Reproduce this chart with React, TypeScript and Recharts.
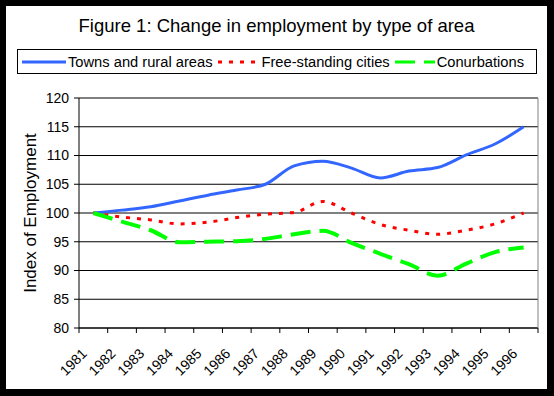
import React from "react";
import { LineChart, Line, XAxis, YAxis, CartesianGrid, ReferenceLine } from "recharts";

const years = ["1981", "1982", "1983", "1984", "1985", "1986", "1987", "1988", "1989", "1990", "1991", "1992", "1993", "1994", "1995", "1996"];
const towns = [100, 100.5, 101.1, 102.1, 103.1, 104, 105, 108.2, 109, 107.8, 106.1, 107.3, 107.9, 110.1, 112, 115];
const freeStanding = [100, 99.3, 98.8, 98.1, 98.4, 99.2, 99.8, 100.1, 102, 100, 98, 97, 96.3, 97, 98.1, 100];
const conurbations = [100, 98.5, 97, 94.9, 95, 95.1, 95.5, 96.3, 96.9, 94.8, 92.9, 91.1, 89.1, 91.2, 93.2, 94];
const yTicks = [80, 85, 90, 95, 100, 105, 110, 115, 120];

const data = years.map((year, i) => ({
  year,
  towns: towns[i],
  free: freeStanding[i],
  conurb: conurbations[i],
}));

const FONT = "'Liberation Sans', Arial, sans-serif";
const CHART_W = 541;
const CHART_H = 383;
const PLOT_W = 459;
const HALF_STEP = PLOT_W / years.length / 2;

const BLUE = "#3366ff";
const RED = "#ff0000";
const GREEN = "#00ff00";

function YearTick(props: any) {
  const { x, y, payload, index } = props;
  const last = index === years.length - 1;
  return (
    <g>
      <line x1={x - HALF_STEP} x2={x - HALF_STEP} y1={y} y2={y + 5} stroke="#000" />
      {last && <line x1={x + HALF_STEP} x2={x + HALF_STEP} y1={y} y2={y + 5} stroke="#000" />}
      <text
        transform={`translate(${x - 9},${y + 23}) rotate(-45)`}
        textAnchor="end"
        dominantBaseline="central"
        fontFamily={FONT}
        fontSize={14}
        fill="#000"
      >
        {payload.value}
      </text>
    </g>
  );
}

function LegendItem({ color, dash, width, label }: { color: string; dash?: string; width: number; label: string }) {
  return (
    <div style={{ display: "flex", alignItems: "center" }}>
      <svg width={width} height={10} style={{ display: "block" }}>
        <line x1={0} x2={width} y1={5} y2={5} stroke={color} strokeWidth={3} strokeDasharray={dash} />
      </svg>
      <span style={{ marginLeft: 2 }}>{label}</span>
    </div>
  );
}

export default function App() {
  return (
    <div style={{ position: "absolute", left: 0, top: 0, width: 554, height: 396, background: "#000" }}>
      <div style={{ position: "absolute", left: 6, top: 6, width: CHART_W, height: CHART_H, background: "#fff" }}>
        <div
          style={{
            position: "absolute",
            left: 0,
            top: 9,
            width: CHART_W,
            textAlign: "center",
            fontFamily: FONT,
            fontSize: 18.5,
            color: "#000",
          }}
        >
          Figure 1: Change in employment by type of area
        </div>
        <div
          style={{
            position: "absolute",
            left: 11,
            top: 43,
            width: 514,
            height: 23,
            border: "1px solid #000",
            display: "flex",
            alignItems: "center",
            gap: 5,
            paddingLeft: 4,
            boxSizing: "content-box",
            fontFamily: FONT,
            fontSize: 14.7,
            color: "#000",
            whiteSpace: "nowrap",
          }}
        >
          <LegendItem color={BLUE} width={44} label="Towns and rural areas" />
          <LegendItem color={RED} dash="4 7" width={42} label="Free-standing cities" />
          <LegendItem color={GREEN} dash="20 9" width={40} label="Conurbations" />
        </div>
        <LineChart
          width={CHART_W}
          height={CHART_H}
          data={data}
          margin={{ top: 92, right: 0, bottom: 0, left: 0 }}
        >
          <CartesianGrid vertical={false} stroke="#000" yAxisId="left" />
          <XAxis
            dataKey="year"
            interval={0}
            padding={{ left: HALF_STEP, right: HALF_STEP }}
            tickLine={false}
            tickSize={0}
            tickMargin={0}
            axisLine={{ stroke: "#000" }}
            height={61}
            tick={<YearTick />}
          />
          <YAxis
            yAxisId="left"
            domain={[80, 120]}
            ticks={yTicks}
            width={73}
            tickSize={5}
            tickMargin={5}
            tickLine={{ stroke: "#000" }}
            axisLine={{ stroke: "#000" }}
            tick={{ fontFamily: FONT, fontSize: 14, fill: "#000" }}
            label={{
              value: "Index of Employment",
              angle: -90,
              position: "insideLeft",
              offset: 24,
              style: { textAnchor: "middle", fontFamily: FONT, fontSize: 17, fill: "#000" },
            }}
          />
          <YAxis
            yAxisId="right"
            orientation="right"
            domain={[80, 120]}
            width={9}
            tick={false}
            tickLine={false}
            axisLine={{ stroke: "#808080" }}
          />
          <ReferenceLine yAxisId="left" y={120} stroke="#808080" />
          <Line
            yAxisId="left"
            type="monotone"
            dataKey="towns"
            stroke={BLUE}
            strokeWidth={3}
            dot={false}
            isAnimationActive={false}
          />
          <Line
            yAxisId="left"
            type="monotone"
            dataKey="free"
            stroke={RED}
            strokeWidth={3}
            strokeDasharray="4 7"
            dot={false}
            isAnimationActive={false}
          />
          <Line
            yAxisId="left"
            type="monotone"
            dataKey="conurb"
            stroke={GREEN}
            strokeWidth={4}
            strokeDasharray="20 9"
            dot={false}
            isAnimationActive={false}
          />
        </LineChart>
      </div>
    </div>
  );
}
